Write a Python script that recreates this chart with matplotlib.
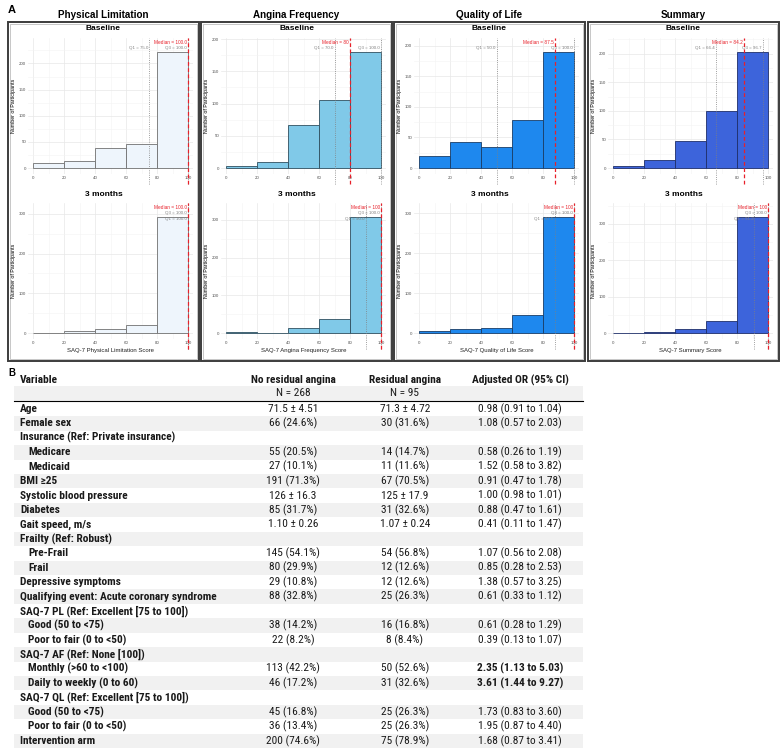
import numpy as np
import matplotlib
matplotlib.use("Agg")
import matplotlib.pyplot as plt
from matplotlib.patches import Rectangle

W, H = 783, 754

# ---- panel A data (counts per 20-point bin) ----
bin_edges = [0, 20, 40, 60, 80]
domains = ["Physical Limitation", "Angina Frequency", "Quality of Life", "Summary"]
xlabels = ["SAQ-7 Physical Limitation Score", "SAQ-7 Angina Frequency Score",
           "SAQ-7 Quality of Life Score", "SAQ-7 Summary Score"]
base_counts = [[9, 13, 39, 45, 222],
               [3, 10, 66, 105, 180],
               [19, 43, 34, 79, 190],
               [3, 14, 47, 99, 203]]
m3_counts = [[1, 4, 11, 19, 292],
             [3, 1, 12, 38, 308],
             [4, 10, 13, 45, 291],
             [1, 4, 10, 32, 319]]
base_median = [100.0, 80, 87.5, 84.2]
base_q1 = [75.0, 70.0, 50.0, 66.4]
base_q3 = [100.0, 100.0, 100.0, 96.7]
m3_median = [100.0, 100, 100, 100]
m3_q1 = [100.0, 90.0, 87.5, 91.2]
m3_q3 = [100.0, 100.0, 100.0, 100.0]
median_fmt = ["{:.1f}", "{:g}", "{:g}", "{:g}"]
fills = ["#EEF5FC", "#80C9E8", "#1E88EE", "#3D64DB"]
edges = ["#707070", "#2f4f5f", "#1a3d66", "#1f2f6a"]

# ---- panel B data ----
variables = ["Age", "Female sex", "Insurance (Ref: Private insurance)", "Medicare", "Medicaid",
             "BMI \u226525", "Systolic blood pressure", "Diabetes", "Gait speed, m/s",
             "Frailty (Ref: Robust)", "Pre-Frail", "Frail", "Depressive symptoms",
             "Qualifying event: Acute coronary syndrome", "SAQ-7 PL (Ref: Excellent [75 to 100])",
             "Good (50 to <75)", "Poor to fair (0 to <50)", "SAQ-7 AF (Ref: None [100])",
             "Monthly (>60 to <100)", "Daily to weekly (0 to 60)",
             "SAQ-7 QL (Ref: Excellent [75 to 100])", "Good (50 to <75)",
             "Poor to fair (0 to <50)", "Intervention arm"]
indented = [0, 0, 0, 1, 1, 0, 0, 0, 0, 0, 1, 1, 0, 0, 0, 1, 1, 0, 1, 1, 0, 1, 1, 0]
no_residual = ["71.5 \u00b1 4.51", "66 (24.6%)", "", "55 (20.5%)", "27 (10.1%)", "191 (71.3%)",
               "126 \u00b1 16.3", "85 (31.7%)", "1.10 \u00b1 0.26", "", "145 (54.1%)", "80 (29.9%)",
               "29 (10.8%)", "88 (32.8%)", "", "38 (14.2%)", "22 (8.2%)", "", "113 (42.2%)",
               "46 (17.2%)", "", "45 (16.8%)", "36 (13.4%)", "200 (74.6%)"]
residual = ["71.3 \u00b1 4.72", "30 (31.6%)", "", "14 (14.7%)", "11 (11.6%)", "67 (70.5%)",
            "125 \u00b1 17.9", "31 (32.6%)", "1.07 \u00b1 0.24", "", "54 (56.8%)", "12 (12.6%)",
            "12 (12.6%)", "25 (26.3%)", "", "16 (16.8%)", "8 (8.4%)", "", "50 (52.6%)",
            "31 (32.6%)", "", "25 (26.3%)", "25 (26.3%)", "75 (78.9%)"]
adj_or = ["0.98 (0.91 to 1.04)", "1.08 (0.57 to 2.03)", "", "0.58 (0.26 to 1.19)",
          "1.52 (0.58 to 3.82)", "0.91 (0.47 to 1.78)", "1.00 (0.98 to 1.01)",
          "0.88 (0.47 to 1.61)", "0.41 (0.11 to 1.47)", "", "1.07 (0.56 to 2.08)",
          "0.85 (0.28 to 2.53)", "1.38 (0.57 to 3.25)", "0.61 (0.33 to 1.12)", "",
          "0.61 (0.28 to 1.29)", "0.39 (0.13 to 1.07)", "", "2.35 (1.13 to 5.03)",
          "3.61 (1.44 to 9.27)", "", "1.73 (0.83 to 3.60)", "1.95 (0.87 to 4.40)",
          "1.68 (0.87 to 3.41)"]
or_bold = [0] * 18 + [1, 1] + [0] * 4
n_groups = ["N = 268", "N = 95"]

narrow = dict(family=["Roboto Condensed", "DejaVu Sans"], fontstretch="condensed")
plt.rcParams['font.family'] = ['Liberation Sans', 'DejaVu Sans']

fig = plt.figure(figsize=(W / 100, H / 100), dpi=100)

# overlay in pixel coordinates for boxes, titles and table
ov = fig.add_axes([0, 0, 1, 1], zorder=0)
ov.set_xlim(0, W)
ov.set_ylim(H, 0)
ov.axis("off")


def px_axes(left, top, width, height):
    return fig.add_axes([left / W, 1 - (top + height) / H, width / W, height / H], zorder=2)


def vline(ax, x, **kw):
    # reaches a little below the axis, like the original
    ax.plot([x, x], [-0.07, 1], transform=ax.get_xaxis_transform(), clip_on=False, **kw)


def draw_hist(ax, counts, med, q1, q3, fill, edge, step, mfmt):
    ax.bar(bin_edges, counts, width=20, align="edge", color=fill, edgecolor=edge,
           linewidth=0.6, zorder=2)
    top = 1.12 * max(counts)
    ax.set_ylim(-0.046 * top, top)
    ax.set_xlim(-3, 103)
    ax.set_xticks([0, 20, 40, 60, 80, 100])
    ax.set_xticks([10, 30, 50, 70, 90], minor=True)
    ax.set_yticks(np.arange(0, top, step))
    ax.set_yticks(np.arange(step / 2, top, step), minor=True)
    ax.grid(True, which="major", color="#e8e8e8", linewidth=0.5, zorder=0)
    ax.grid(True, which="minor", color="#f3f3f3", linewidth=0.4, zorder=0)
    ax.set_axisbelow(True)
    for s in ax.spines.values():
        s.set_visible(False)
    ax.tick_params(which="both", length=0, labelsize=3.2, labelcolor="#555555", pad=1.5)
    vline(ax, q1, color="#808080", linestyle=":", linewidth=0.6, zorder=3)
    vline(ax, q3, color="#808080", linestyle=":", linewidth=0.6, zorder=3)
    vline(ax, med, color="#e8202a", linestyle=(0, (3, 2)), linewidth=0.9, zorder=4)
    ax.text(med - 0.8, top * 0.985, "Median = " + mfmt.format(med), color="#e8202a",
            fontsize=3.4, ha="right", va="top")
    ax.text(q3 - 0.8, top * 0.935, "Q3 = {:.1f}".format(q3), color="#808080",
            fontsize=3.2, ha="right", va="top")
    q1_y = 0.935 if q3 - q1 > 20 else 0.89
    ax.text(q1 - 0.8, top * q1_y, "Q1 = {:.1f}".format(q1), color="#808080",
            fontsize=3.2, ha="right", va="top")
    ax.set_ylabel("Number of Participants", fontsize=3.8, labelpad=2)


box_left = [8, 201, 394, 588]
box_w = 191
ov.text(8, 10, "A", fontsize=8, fontweight="bold", ha="left", va="center")
for i in range(4):
    L = box_left[i]
    ov.add_patch(Rectangle((L, 22), box_w, 339, fill=False, edgecolor="#3c3c3c", linewidth=1.4))
    ov.add_patch(Rectangle((L + 1.6, 23.6), box_w - 3.2, 335.8, fill=False,
                           edgecolor="#b0b0b0", linewidth=0.5))
    ov.text(L + box_w / 2, 15, domains[i], fontsize=7.1, fontweight="bold",
            ha="center", va="center")
    ov.text(L + box_w / 2, 29, "Baseline", fontsize=6, fontweight="bold", ha="center", va="center")
    ov.text(L + box_w / 2, 195, "3 months", fontsize=6, fontweight="bold", ha="center", va="center")
    ax1 = px_axes(L + 20.4, 38, 164.3, 136)
    draw_hist(ax1, base_counts[i], base_median[i], base_q1[i], base_q3[i],
              fills[i], edges[i], 50, median_fmt[i])
    ax2 = px_axes(L + 20.4, 203, 164.3, 136)
    draw_hist(ax2, m3_counts[i], m3_median[i], m3_q1[i], m3_q3[i],
              fills[i], edges[i], 100, median_fmt[i])
    ax2.set_xlabel(xlabels[i], fontsize=4.3, labelpad=2, color="#222222")

# ---- panel B table ----
ov.text(8, 373, "B", fontsize=7, fontweight="bold", ha="left", va="center")
col_x = [293, 405, 520]
tx0, tx1 = 14, 583
y_head, y_n, y0, dy = 380, 393.5, 409, 14.43
fs = 8.2
ink = "#1a1a1a"
ov.text(20, y_head, "Variable", fontsize=fs, fontweight="bold", va="center", color=ink, **narrow)
for cx, lab in zip(col_x, ["No residual angina", "Residual angina", "Adjusted OR (95% CI)"]):
    ov.text(cx, y_head, lab, fontsize=fs, fontweight="bold", ha="center", va="center",
            color=ink, **narrow)
ov.add_patch(Rectangle((tx0, y_n - dy / 2), tx1 - tx0, dy, color="#f1f1f1", linewidth=0))
for cx, lab in zip(col_x[:2], n_groups):
    ov.text(cx, y_n, lab, fontsize=fs, ha="center", va="center", color=ink, **narrow)
ov.plot([tx0, tx1], [y_n + dy / 2 + 0.5, y_n + dy / 2 + 0.5], color="black", linewidth=0.8)

for r, name in enumerate(variables):
    yc = y0 + r * dy
    if r % 2 == 1:
        ov.add_patch(Rectangle((tx0, yc - dy / 2), tx1 - tx0, dy, color="#f1f1f1", linewidth=0))
    ov.text(20 + 8 * indented[r], yc, name, fontsize=fs, fontweight="bold", va="center",
            color=ink, **narrow)
    ov.text(col_x[0], yc, no_residual[r], fontsize=fs, ha="center", va="center", color=ink, **narrow)
    ov.text(col_x[1], yc, residual[r], fontsize=fs, ha="center", va="center", color=ink, **narrow)
    ov.text(col_x[2], yc, adj_or[r], fontsize=fs, ha="center", va="center", color=ink,
            fontweight="bold" if or_bold[r] else "normal", **narrow)

fig.savefig("out.png", dpi=100)
